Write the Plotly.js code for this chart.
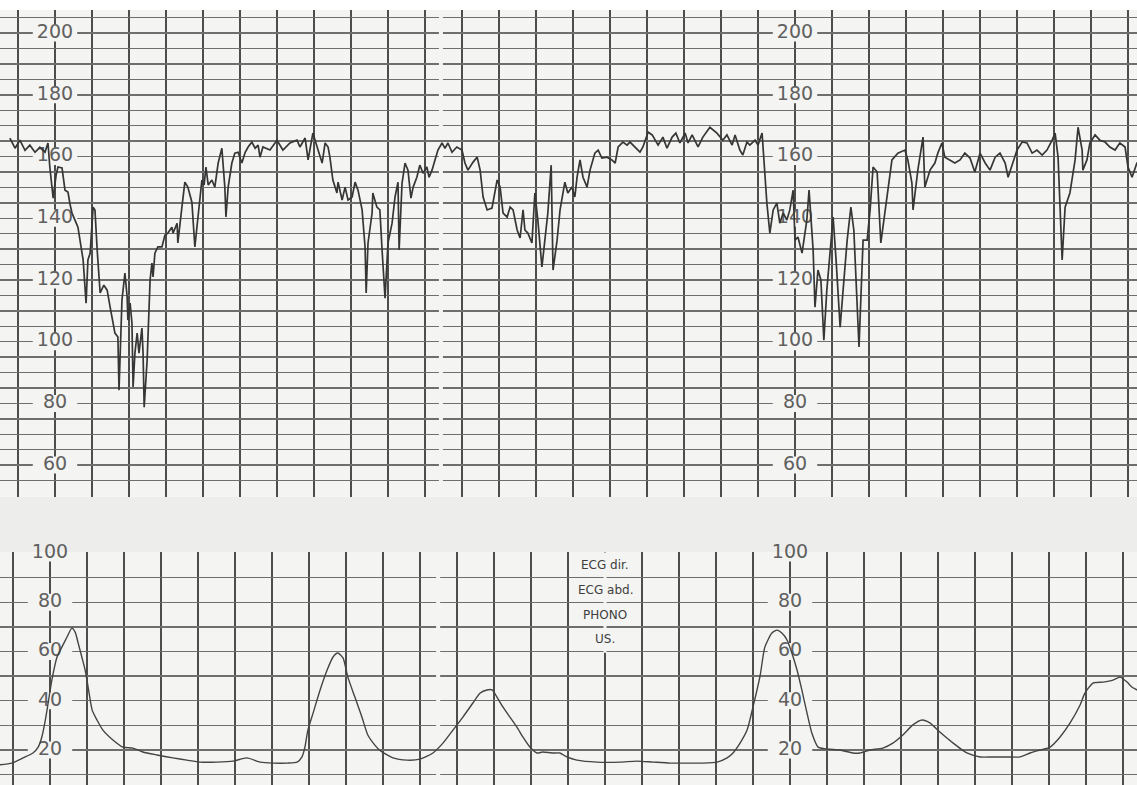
<!DOCTYPE html>
<html>
<head>
<meta charset="utf-8">
<script src="https://cdn.plot.ly/plotly-3.0.1.min.js"></script>
<style>
  html, body { margin: 0; padding: 0; background: #ffffff; }
  #ctg { width: 1137px; height: 785px; }
</style>
</head>
<body>
<div id="ctg"></div>
<script>
// Fetal heart rate (bpm) against time (minutes, 1 cm/min paper)
const fhrTime = [
  -0.22, -0.08, 0.05, 0.19, 0.32, 0.46, 0.59, 0.73, 0.81, 0.86, 0.95, 1.03, 1.08, 1.19, 1.27, 1.35, 1.41, 1.46, 1.54, 1.62,
  1.76, 1.84, 1.89, 1.95, 2.03, 2.08, 2.14, 2.22, 2.32, 2.41, 2.49, 2.62, 2.70, 2.73, 2.81, 2.89, 2.95, 2.97, 3.03, 3.08,
  3.11, 3.16, 3.22, 3.27, 3.35, 3.38, 3.41, 3.49, 3.57, 3.62, 3.65, 3.70, 3.78, 3.89, 3.97, 4.05, 4.16, 4.19, 4.30, 4.32,
  4.43, 4.51, 4.59, 4.70, 4.78, 4.86, 4.97, 5.03, 5.08, 5.14, 5.24, 5.32, 5.41, 5.51, 5.59, 5.62, 5.68, 5.78, 5.86, 5.95,
  6.05, 6.14, 6.22, 6.32, 6.41, 6.49, 6.54, 6.62, 6.81, 7.00, 7.16, 7.35, 7.54, 7.62, 7.76, 7.84, 7.97, 8.11, 8.22, 8.30,
  8.38, 8.43, 8.51, 8.62, 8.65, 8.76, 8.84, 8.92, 9.03, 9.11, 9.19, 9.30, 9.38, 9.41, 9.46, 9.57, 9.59, 9.70, 9.78, 9.84,
  9.92, 10.00, 10.11, 10.19, 10.27, 10.30, 10.38, 10.46, 10.54, 10.62, 10.68, 10.78, 10.86, 10.95, 11.05, 11.11, 11.19, 11.27, 11.35, 11.46,
  11.54, 11.62, 11.73, 11.86, 12.00, 12.08, 12.16, 12.30, 12.41, 12.49, 12.57, 12.68, 12.81, 12.95, 13.03, 13.11, 13.22, 13.30, 13.38, 13.49,
  13.57, 13.65, 13.70, 13.78, 13.89, 13.97, 14.05, 14.16, 14.24, 14.32, 14.41, 14.46, 14.57, 14.65, 14.78, 14.86, 14.97, 15.05, 15.11, 15.19,
  15.27, 15.38, 15.46, 15.59, 15.68, 15.78, 15.92, 16.05, 16.14, 16.22, 16.35, 16.46, 16.54, 16.68, 16.81, 16.89, 17.03, 17.14, 17.22, 17.30,
  17.43, 17.54, 17.68, 17.78, 17.89, 18.03, 18.11, 18.22, 18.38, 18.51, 18.70, 18.89, 19.05, 19.16, 19.30, 19.38, 19.51, 19.59, 19.70, 19.78,
  19.92, 20.00, 20.11, 20.14, 20.19, 20.24, 20.32, 20.41, 20.51, 20.59, 20.68, 20.78, 20.86, 20.95, 21.00, 21.08, 21.19, 21.27, 21.32, 21.38,
  21.43, 21.49, 21.54, 21.62, 21.70, 21.78, 21.86, 21.95, 22.03, 22.11, 22.22, 22.30, 22.41, 22.51, 22.59, 22.73, 22.84, 22.95, 23.03, 23.11,
  23.22, 23.32, 23.49, 23.62, 23.78, 23.97, 24.05, 24.16, 24.19, 24.32, 24.46, 24.51, 24.65, 24.78, 24.86, 24.97, 25.05, 25.19, 25.32, 25.46,
  25.59, 25.73, 25.86, 26.00, 26.14, 26.27, 26.41, 26.54, 26.68, 26.76, 26.89, 27.00, 27.14, 27.27, 27.41, 27.54, 27.68, 27.81, 27.95, 28.03,
  28.11, 28.16, 28.22, 28.30, 28.43, 28.57, 28.65, 28.76, 28.78, 28.89, 28.97, 29.11, 29.24, 29.38, 29.51, 29.65, 29.78, 29.92, 30.00, 30.11,
  30.24, 30.32
];
const fhrBpm = [
  166, 162.7, 165.3, 162, 163.7, 161.4, 163, 161.4, 164.4, 156.6, 146.5, 154, 156.6, 156.3, 149.1, 148.5, 144.3, 141.7, 139.4, 137.1,
  126.5, 112.5, 126.5, 128.7, 143.6, 142.7, 129.7, 115.8, 118.3, 116.7, 111.2, 102.8, 101.5, 84.3, 113.5, 122.2, 114.5, 107, 112.5, 106,
  85.3, 96.3, 102.8, 96.3, 104.4, 96.3, 78.8, 94, 120, 125.5, 121, 128.7, 130.7, 130.7, 134.5, 135.2, 137.1, 135.2, 138.4, 132,
  143.6, 151.7, 150.1, 145.2, 130.7, 139.4, 152.4, 150.8, 156.6, 150.8, 152.4, 150.1, 157.9, 162.7, 150.1, 140.4, 150.1, 157.9, 161.1, 161.4,
  157.9, 161.4, 163.1, 164.7, 162.7, 163.7, 159.8, 163.1, 162.1, 165.3, 162.1, 164.4, 165.3, 163.1, 166, 158.9, 167.6, 162.1, 157.9, 164.4,
  163.1, 159.8, 152.4, 148.2, 151.7, 145.9, 150.1, 145.9, 146.9, 151.7, 149.1, 142.7, 130.7, 115.8, 132, 141.7, 148.2, 143.6, 142.7, 129.7,
  114.1, 132, 138.4, 146.9, 151.7, 129.7, 151.4, 157.9, 155.6, 146.5, 150.1, 153.3, 157.2, 154.6, 156.6, 153.3, 155.6, 158.9, 162.1, 164.4,
  162.7, 164.4, 161.4, 163.1, 162.1, 157.9, 155.6, 158.2, 159.8, 155.6, 146.9, 142.7, 143.3, 152.4, 150.1, 141.7, 140.4, 143.6, 142.7, 136.2,
  133.6, 142.7, 136.2, 135.2, 132, 148.2, 139.4, 124.2, 133.9, 141.7, 157.2, 123.2, 132.9, 142.7, 151.7, 148.2, 150.1, 146.9, 153.3, 158.9,
  153.3, 150.1, 155.6, 161.1, 162.1, 159.5, 159.8, 158.9, 157.9, 163.1, 164.7, 163.7, 164.7, 163.1, 161.4, 163.1, 167.9, 167, 165.3, 163.7,
  166.3, 162.7, 166.3, 167.6, 164.4, 167.6, 164.4, 167, 163.1, 166.3, 169.5, 167.6, 165.3, 167, 163.7, 167, 162.1, 160.5, 164.7, 163.7,
  165.3, 163.7, 167.6, 162.1, 153.3, 144.9, 135.2, 142.7, 144.9, 138.4, 141.7, 139.4, 142.7, 149.1, 132.9, 133.9, 128.7, 136.2, 139.4, 149.1,
  139.4, 129.7, 111.2, 123.2, 120, 100.5, 116.7, 129.7, 140.4, 126.5, 104.7, 116.7, 132.9, 143.6, 136.2, 98.3, 132.9, 132.9, 142.7, 156.6,
  155, 132, 148.2, 158.9, 161.1, 162.1, 158.9, 151.4, 142.7, 155.6, 166.3, 150.1, 155.6, 157.9, 161.1, 164.4, 159.8, 158.9, 157.9, 158.9,
  161.1, 159.5, 155, 161.1, 157.9, 155.6, 159.8, 161.1, 157.9, 153.3, 157.9, 162.1, 164.7, 164.4, 161.1, 162.1, 160.5, 162.1, 165.3, 167.6,
  159.8, 142.7, 126.5, 143.6, 148.2, 158.9, 169.5, 162.1, 155.6, 158.9, 164.4, 167, 165.3, 164.7, 163.1, 162.1, 164.4, 163.1, 156.6, 153.3,
  157.9, 158
];

// Uterine activity (relative units) against time (minutes)
const ucTime = [
  -0.35, -0.03, 0.27, 0.54, 0.68, 0.78, 0.86, 0.95, 1.05, 1.19, 1.32, 1.46, 1.59, 1.68, 1.76, 1.86, 1.95, 2.03, 2.14, 2.27,
  2.43, 2.70, 2.97, 3.24, 3.51, 3.89, 4.32, 4.70, 5.05, 5.51, 5.95, 6.32, 6.68, 7.03, 7.41, 7.68, 7.81, 7.89, 7.97, 8.11,
  8.30, 8.49, 8.65, 8.78, 8.92, 9.05, 9.24, 9.43, 9.59, 9.78, 9.92, 10.27, 10.65, 11.00, 11.35, 11.62, 11.89, 12.16, 12.43, 12.62,
  12.81, 12.95, 13.08, 13.24, 13.43, 13.62, 13.78, 13.97, 14.16, 14.32, 14.57, 14.78, 14.97, 15.24, 15.78, 16.41, 16.86, 17.30, 17.76, 18.22,
  18.65, 19.03, 19.30, 19.46, 19.65, 19.84, 20.00, 20.19, 20.32, 20.51, 20.65, 20.78, 20.92, 21.05, 21.19, 21.32, 21.46, 21.59, 21.76, 22.00,
  22.35, 22.70, 22.89, 23.16, 23.51, 23.78, 24.05, 24.32, 24.57, 24.78, 25.05, 25.41, 25.78, 26.14, 26.49, 26.86, 27.22, 27.49, 27.76, 28.03,
  28.30, 28.57, 28.84, 28.97, 29.19, 29.46, 29.73, 29.92, 30.11, 30.24, 30.38, 30.51
];
const ucValue = [
  14, 14.7, 16.8, 18.8, 21.2, 25.3, 31, 39.1, 48.4, 57.8, 61.8, 65.9, 69.5, 67.9, 63.5, 57.8, 52.5, 45.6, 36.2, 32.2,
  28.1, 24.1, 21.2, 20.8, 19.2, 18, 16.8, 15.9, 15.1, 15.1, 15.5, 16.8, 15.1, 14.7, 14.7, 15.1, 17.2, 21.2, 28.1, 35,
  44.4, 52.5, 57.8, 59.4, 57.4, 49.6, 41.5, 33.4, 26.1, 22, 19.8, 16.8, 15.9, 16.3, 18.8, 22.8, 28.1, 33.4, 39.1, 43.1,
  44.4, 44.4, 41.5, 37.5, 33.4, 29.3, 25.3, 21.2, 18.8, 19.2, 18.8, 18.8, 17.2, 15.9, 15.1, 15.1, 15.5, 15.1, 14.7, 14.7,
  14.7, 15.1, 16.8, 18.8, 22.8, 28.1, 37.5, 50, 61.8, 67.5, 68.7, 67.5, 64.7, 59.4, 52.5, 44.4, 35, 26.9, 21.2, 20.4,
  20, 18.8, 18.8, 20, 20.8, 22.8, 26.1, 30.2, 32.2, 31, 27.3, 22.8, 18.8, 17.2, 17.2, 17.2, 17.2, 18.8, 20, 21.2,
  25.3, 31, 38.3, 43.1, 47.2, 47.6, 48.4, 49.6, 47.6, 45.6, 44.4, 43
];

// Scale labels printed on the paper
const fhrTicks = [200, 180, 160, 140, 120, 100, 80, 60];
const ucTicks = [100, 80, 60, 40, 20];
const labelColumns = [1, 21];
const channelLabels = ['ECG dir.', 'ECG abd.', 'PHONO', 'US.'];

const paperColor = '#f4f4f2';
const inkGrid = '#4d4d4d';
const inkFine = '#6e6e6e';
const inkTrace = '#363636';
const labelFont = { family: 'DejaVu Sans, Verdana, sans-serif', size: 19, color: '#606060' };
const labelHalfWidth = 0.6; // minutes either side of the label column

// Scale labels sit on a clear patch of paper, under the pen traces
function scaleLabelTraces(ticks, xa, ya) {
  const mx = [], my = [], tx = [], ty = [], tt = [];
  labelColumns.forEach(col => {
    ticks.forEach(v => {
      mx.push(col - labelHalfWidth, col + labelHalfWidth, null);
      my.push(v, v, null);
      tx.push(col); ty.push(v); tt.push(String(v));
    });
  });
  return [
    { x: mx, y: my, xaxis: xa, yaxis: ya, mode: 'lines',
      line: { color: paperColor, width: 17 }, hoverinfo: 'skip', showlegend: false },
    { x: tx, y: ty, text: tt, xaxis: xa, yaxis: ya, mode: 'text', cliponaxis: false,
      textposition: 'middle center', textfont: labelFont, hoverinfo: 'skip', showlegend: false }
  ];
}

const traces = [
  ...scaleLabelTraces(fhrTicks, 'x', 'y'),
  ...scaleLabelTraces(ucTicks, 'x2', 'y2'),
  {
    x: fhrTime, y: fhrBpm, xaxis: 'x', yaxis: 'y',
    mode: 'lines', line: { color: inkTrace, width: 1.7 },
    hoverinfo: 'skip', showlegend: false
  },
  {
    x: ucTime, y: ucValue, xaxis: 'x2', yaxis: 'y2',
    mode: 'lines', line: { color: '#444444', width: 1.4, shape: 'spline', smoothing: 0.6 },
    hoverinfo: 'skip', showlegend: false
  }
];

// channel legend printed in the box between minutes 15 and 17
const annotations = channelLabels.map((txt, i) => ({
  x: 16, y: 95 - 10 * i, xref: 'x2', yref: 'y2', text: txt, showarrow: false,
  font: { family: 'DejaVu Sans, sans-serif', size: 12, color: '#3e3e3e' },
  bgcolor: paperColor, borderpad: 0
}));

const paperStroke = { color: paperColor, width: 4 };
const shapes = [
  // blank strip between the two recording channels
  { type: 'rect', xref: 'paper', yref: 'paper', x0: 0, x1: 1, y0: 0.2964, y1: 0.367,
    fillcolor: '#ededeb', line: { width: 0 }, layer: 'below' },
  // fold in the paper, interrupted where the pen crosses it
  { type: 'line', xref: 'x', yref: 'y', x0: 11.43, x1: 11.43, y0: 207.5, y1: 168, line: paperStroke, layer: 'above' },
  { type: 'line', xref: 'x', yref: 'y', x0: 11.43, x1: 11.43, y0: 160.5, y1: 49.7, line: paperStroke, layer: 'above' },
  { type: 'line', xref: 'x2', yref: 'y2', x0: 11.49, x1: 11.49, y0: 100.3, y1: 22, line: paperStroke, layer: 'above' },
  { type: 'line', xref: 'x2', yref: 'y2', x0: 11.49, x1: 11.49, y0: 14, y1: 5.8, line: paperStroke, layer: 'above' },
  // no minute line through the channel legend
  { type: 'line', xref: 'x2', yref: 'y2', x0: 16, x1: 16, y0: 100.3, y1: 59.5, line: { color: paperColor, width: 3 }, layer: 'above' }
];

const layout = {
  width: 1137, height: 785,
  margin: { l: 0, r: 0, t: 0, b: 0, pad: 0 },
  paper_bgcolor: '#ffffff',
  plot_bgcolor: paperColor,
  showlegend: false,
  xaxis: {
    domain: [0, 1], range: [-18 / 37, 1119 / 37], anchor: 'y',
    tick0: 0, dtick: 1, showgrid: true, gridcolor: inkGrid, gridwidth: 1.8,
    showticklabels: false, ticks: '', zeroline: false, showline: false, fixedrange: true
  },
  yaxis: {
    domain: [0.367, 0.9873], range: [49.7, 207.5], anchor: 'x',
    tick0: 0, dtick: 5, showgrid: true, gridcolor: inkFine, gridwidth: 1.4,
    showticklabels: false, ticks: '', zeroline: false, showline: false, fixedrange: true
  },
  xaxis2: {
    domain: [0, 1], range: [-13 / 37, 1124 / 37], anchor: 'y2',
    tick0: 0, dtick: 1, showgrid: true, gridcolor: inkGrid, gridwidth: 1.8,
    showticklabels: false, ticks: '', zeroline: false, showline: false, fixedrange: true
  },
  yaxis2: {
    domain: [0, 0.2964], range: [5.8, 100.3], anchor: 'x2',
    tick0: 0, dtick: 10, showgrid: true, gridcolor: inkFine, gridwidth: 1.4,
    showticklabels: false, ticks: '', zeroline: false, showline: false, fixedrange: true
  },
  annotations: annotations,
  shapes: shapes
};

Plotly.newPlot('ctg', traces, layout, { staticPlot: true, displayModeBar: false });
</script>
</body>
</html>
